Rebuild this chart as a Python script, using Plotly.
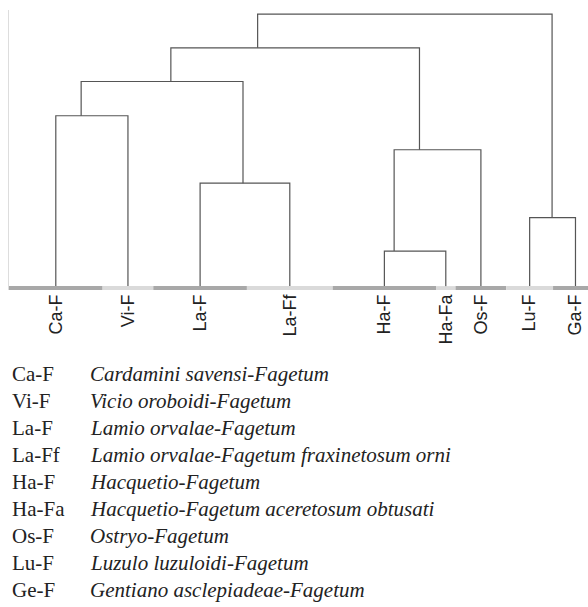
import plotly.graph_objects as go

# ---- data ----
leaf_labels = ["Ca-F", "Vi-F", "La-F", "La-Ff", "Ha-F", "Ha-Fa", "Os-F", "Lu-F", "Ga-F"]
leaf_sizes = [48, 26, 48, 44, 53, 10, 26, 24, 23]   # number of relevés per cluster (strip widths)

# merges: node ids 0..8 are leaves, each merge creates a new node 9, 10, ...
merge_left = [4, 7, 2, 9, 0, 13, 14, 15]
merge_right = [5, 8, 3, 6, 1, 11, 12, 10]
merge_height = [0.135, 0.257, 0.383, 0.505, 0.629, 0.754, 0.877, 1.0]

legend_abbr = ["Ca-F", "Vi-F", "La-F", "La-Ff", "Ha-F", "Ha-Fa", "Os-F", "Lu-F", "Ge-F"]
legend_names = [
    "Cardamini savensi-Fagetum",
    "Vicio oroboidi-Fagetum",
    "Lamio orvalae-Fagetum",
    "Lamio orvalae-Fagetum fraxinetosum orni",
    "Hacquetio-Fagetum",
    "Hacquetio-Fagetum aceretosum obtusati",
    "Ostryo-Fagetum",
    "Luzulo luzuloidi-Fagetum",
    "Gentiano asclepiadeae-Fagetum",
]

# ---- layout constants ----
W, H = 588, 607
ML, MR, MT = 9, 0, 10
PLOT_BOTTOM_PX = 290
MB = H - PLOT_BOTTOM_PX
plot_w = W - ML - MR
px_per_unit = 1.95
x_max = plot_w / px_per_unit
y_top = 1.015
y_bottom = y_top - (PLOT_BOTTOM_PX - MT) / 274.0

# ---- compute leaf positions (centres of strips) ----
starts, centres = [], []
acc = 0
for s in leaf_sizes:
    starts.append(acc)
    centres.append(acc + s / 2)
    acc += s

node_x = list(centres)
node_w = list(leaf_sizes)
node_h = [0.0] * len(leaf_sizes)

lx, ly = [], []
for a, b, h in zip(merge_left, merge_right, merge_height):
    xa, xb = node_x[a], node_x[b]
    lx += [xa, xa, xb, xb, None]
    ly += [node_h[a], h, h, node_h[b], None]
    w = node_w[a] + node_w[b]
    node_x.append((xa * node_w[a] + xb * node_w[b]) / w)
    node_w.append(w)
    node_h.append(h)

fig = go.Figure()
fig.add_trace(go.Scatter(x=lx, y=ly, mode="lines",
                         line=dict(color="#555555", width=1.2),
                         hoverinfo="skip", showlegend=False))

strip_colors = ["#a8a8a8", "#dadada"]
for i, (st, s) in enumerate(zip(starts, leaf_sizes)):
    fig.add_trace(go.Scatter(x=[st, st + s], y=[0, 0], mode="lines",
                             line=dict(color=strip_colors[i % 2], width=4),
                             hoverinfo="skip", showlegend=False))

annotations = []
line0 = 373.5
spacing = 27.1
for i, (ab, nm) in enumerate(zip(legend_abbr, legend_names)):
    yc = line0 + i * spacing
    common = dict(xref="paper", yref="paper", x=0, y=0, yanchor="middle",
                  xanchor="left", showarrow=False, yshift=-(yc - PLOT_BOTTOM_PX))
    annotations.append(dict(text=ab, xshift=1,
                            font=dict(family="Liberation Serif", size=21, color="#222222"),
                            **common))
    annotations.append(dict(text="<i>" + nm + "</i>", xshift=78.5,
                            font=dict(family="Liberation Serif", size=21, color="#222222"),
                            **common))

fig.update_layout(
    width=W, height=H,
    margin=dict(l=ML, r=MR, t=MT, b=MB, pad=0),
    paper_bgcolor="white", plot_bgcolor="white",
    showlegend=False,
    annotations=annotations,
    xaxis=dict(range=[0, x_max], tickmode="array", tickvals=centres, ticktext=leaf_labels,
               tickangle=-90, ticks="", showgrid=False, zeroline=False, showline=False,
               tickfont=dict(family="Liberation Sans, Arial", size=18, color="#222222")),
    yaxis=dict(range=[y_bottom, y_top], showticklabels=False, ticks="", showgrid=False,
               zeroline=False, showline=True, linecolor="#dddddd", linewidth=1),
)

fig.write_html("out.html", config={"displayModeBar": False},
               post_script="document.body.style.margin='0';")
